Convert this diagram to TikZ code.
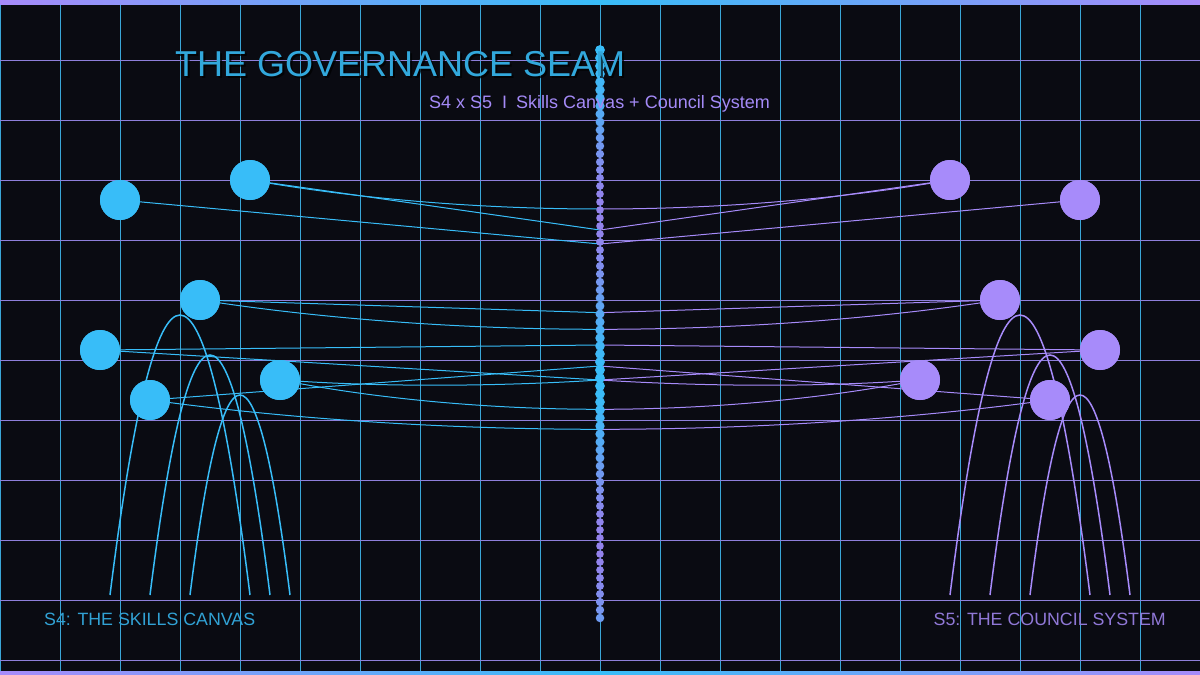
\documentclass[tikz,border=0pt]{standalone}
\usepackage{fontspec}
\setmainfont{Liberation Sans}
\definecolor{bg}{HTML}{0A0B12}
\definecolor{sky}{HTML}{38BDF8}
\definecolor{vio}{HTML}{A78BFA}
\definecolor{gridb}{HTML}{3AA6D8}
\definecolor{gridp}{HTML}{8E7FDA}
\definecolor{dotp}{HTML}{9482EC}
\begin{document}
\begin{tikzpicture}[x=1pt,y=-1pt,
  nodeL/.style={circle,fill=sky,minimum size=40pt,inner sep=0pt},
  nodeR/.style={circle,fill=vio,minimum size=40pt,inner sep=0pt},
  linkL/.style={draw=sky,line width=1pt},
  linkR/.style={draw=vio,line width=1pt},
  archL/.style={draw=sky,line width=1.5pt},
  archR/.style={draw=vio,line width=1.5pt},
  gridv/.style={draw=gridb,line width=1pt},
  gridh/.style={draw=gridp,line width=1pt}]
\fill[bg] (0,0) rectangle (1200,675);
\useasboundingbox (0,0) rectangle (1200,675);
% grid
\foreach \x in {0,60,...,1200} \draw[gridv] (\x,0) -- (\x,675);
\foreach \y in {60,120,...,660} \draw[gridh] (0,\y) -- (1200,\y);
% border bars
\shade[left color=vio,right color=sky] (0,0) rectangle (600,4.5);
\shade[left color=sky,right color=vio] (600,0) rectangle (1200,4.5);
\shade[left color=vio,right color=sky] (0,671) rectangle (600,675);
\shade[left color=sky,right color=vio] (600,671) rectangle (1200,675);
% arches
\draw[archL] (110,595) .. controls (156.67,221.67) and (203.33,221.67) .. (250,595);
\draw[archL] (150,595) .. controls (190,275) and (230,275) .. (270,595);
\draw[archL] (190,595) .. controls (223.33,328.33) and (256.67,328.33) .. (290,595);
\draw[archR] (950,595) .. controls (996.67,221.67) and (1043.33,221.67) .. (1090,595);
\draw[archR] (990,595) .. controls (1030,275) and (1070,275) .. (1110,595);
\draw[archR] (1030,595) .. controls (1063.33,328.33) and (1096.67,328.33) .. (1130,595);
% nodes
\node[nodeL] (L1) at (120,200) {};
\node[nodeL] (L2) at (250,180) {};
\node[nodeL] (L3) at (200,300) {};
\node[nodeL] (L4) at (100,350) {};
\node[nodeL] (L5) at (150,400) {};
\node[nodeL] (L6) at (280,380) {};
\node[nodeR] (R1) at (1080,200) {};
\node[nodeR] (R2) at (950,180) {};
\node[nodeR] (R3) at (1000,300) {};
\node[nodeR] (R4) at (1100,350) {};
\node[nodeR] (R5) at (1050,400) {};
\node[nodeR] (R6) at (920,380) {};
% seam points
\coordinate (t209) at (600,209);
\coordinate (t230) at (600,230);
\coordinate (t244) at (600,244);
\coordinate (t313) at (600,312.7);
\coordinate (t329) at (600,329.3);
\coordinate (t345) at (600,345);
\coordinate (t366) at (600,366);
\coordinate (t380) at (600,380);
\coordinate (t409) at (600,409.3);
\coordinate (t429) at (600,429.3);
% links, left
\draw[linkL] (L1) -- (t244);
\draw[linkL] (L2) -- (t230);
\draw[linkL] (L2) .. controls (366.7,199.3) and (483.3,209) .. (t209);
\draw[linkL] (L3) -- (t313);
\draw[linkL] (L3) .. controls (333.3,319.5) and (466.7,329.3) .. (t329);
\draw[linkL] (L4) -- (t345);
\draw[linkL] (L4) -- (t380);
\draw[linkL] (L5) -- (t366);
\draw[linkL] (L5) .. controls (300,419.5) and (450,429.3) .. (t429);
\draw[linkL] (L6) .. controls (386.7,399.5) and (493.3,409.3) .. (t409);
\draw[linkL] (L6) .. controls (386.7,386.7) and (493.3,386.7) .. (t380);
% links, right
\draw[linkR] (R1) -- (t244);
\draw[linkR] (R2) -- (t230);
\draw[linkR] (R2) .. controls (833.3,199.3) and (716.7,209) .. (t209);
\draw[linkR] (R3) -- (t313);
\draw[linkR] (R3) .. controls (866.7,319.5) and (733.3,329.3) .. (t329);
\draw[linkR] (R4) -- (t345);
\draw[linkR] (R4) -- (t380);
\draw[linkR] (R5) -- (t366);
\draw[linkR] (R5) .. controls (900,419.5) and (750,429.3) .. (t429);
\draw[linkR] (R6) .. controls (813.3,399.5) and (706.7,409.3) .. (t409);
\draw[linkR] (R6) .. controls (813.3,386.7) and (706.7,386.7) .. (t380);
% nodes on top of the links
\foreach \n/\c in {L1/sky,L2/sky,L3/sky,L4/sky,L5/sky,L6/sky,R1/vio,R2/vio,R3/vio,R4/vio,R5/vio,R6/vio}
  \fill[\c] (\n.center) circle[radius=20];
% seam dots
\foreach \i in {0,...,71}{
  \pgfmathsetmacro{\yy}{50+8*\i}
  \pgfmathsetmacro{\ang}{(\yy-380)/330*360}
  \pgfmathtruncatemacro{\pp}{50+50*cos(\ang)}
  \pgfmathsetmacro{\rr}{3.8+0.011*\pp}
  \fill[sky!\pp!dotp] (600,\yy) circle[radius=\rr];
}
% texts
\node[anchor=base west,inner sep=0pt,text=black,opacity=0.7,font=\fontsize{36}{40}\selectfont] (titleshadow) at (177,78) {THE GOVERNANCE SEAM};
\node[anchor=base west,inner sep=0pt,text=sky!88!bg,font=\fontsize{36}{40}\selectfont] (title) at (175,76) {THE GOVERNANCE SEAM};
\node[anchor=base west,inner sep=0pt,text=vio!90!gridp,font=\fontsize{18}{20}\selectfont] (sub) at (429,108) {S4 x S5\hspace{10pt}I\hspace{9pt}Skills Canvas + Council System};
\node[anchor=base west,inner sep=0pt,text=sky!85!bg,font=\fontsize{17.8}{20}\selectfont] (labL) at (44,625) {S4: THE SKILLS CANVAS};
\node[anchor=base east,inner sep=0pt,text=vio!85!bg,font=\fontsize{17.8}{20}\selectfont] (labR) at (1166,625) {S5: THE COUNCIL SYSTEM};
\end{tikzpicture}
\end{document}
